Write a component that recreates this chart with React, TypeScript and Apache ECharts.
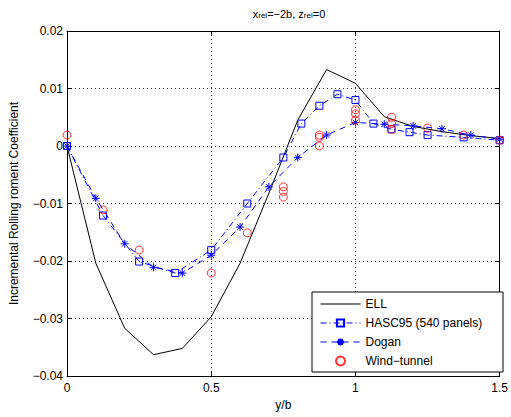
import React, { useEffect, useRef } from "react";
import * as echarts from "echarts";

const ellX = [0, 0.1, 0.2, 0.3, 0.4, 0.5, 0.6, 0.7, 0.8, 0.9, 1.0, 1.1, 1.2, 1.3, 1.4, 1.5];
const ellY = [0, -0.0204, -0.0317, -0.0363, -0.0352, -0.0297, -0.0204, -0.0082, 0.0045, 0.0133, 0.0109, 0.0051, 0.0034, 0.0025, 0.0018, 0.0013];

const hascX = [0, 0.125, 0.25, 0.375, 0.5, 0.625, 0.75, 0.8125, 0.875, 0.9375, 1.0, 1.0625, 1.125, 1.1875, 1.25, 1.375, 1.5];
const hascY = [0, -0.0121, -0.0201, -0.0221, -0.0181, -0.01, -0.002, 0.0039, 0.007, 0.009, 0.008, 0.0039, 0.0029, 0.0024, 0.0019, 0.0015, 0.001];

const doganX = [0, 0.1, 0.2, 0.3, 0.4, 0.5, 0.6, 0.7, 0.8, 0.9, 1.0, 1.1, 1.2, 1.3, 1.4, 1.5];
const doganY = [0, -0.0091, -0.017, -0.0211, -0.0221, -0.019, -0.0141, -0.0071, -0.002, 0.0019, 0.0041, 0.0038, 0.0035, 0.003, 0.0019, 0.0012];

const windX = [0, 0.125, 0.25, 0.5, 0.625, 0.75, 0.75, 0.75, 0.875, 0.875, 0.875, 1, 1, 1, 1.125, 1.125, 1.125, 1.25, 1.375, 1.5];
const windY = [0.0019, -0.0111, -0.0181, -0.0221, -0.0151, -0.0071, -0.0079, -0.0089, 0.0019, 0.0015, 0.0, 0.0063, 0.0056, 0.0045, 0.005, 0.0039, 0.0029, 0.0031, 0.0019, 0.001];

const seriesNames = ["ELL", "HASC95 (540 panels)", "Dogan", "Wind\u2212tunnel"];
const titleText = "{n|x}{s|rel}{n|=\u22122b, z}{s|rel}{n|=0}";
const xName = "y/b";
const yName = "Incremental Rolling roment Coefficient";

const FONT = "Liberation Sans, Arial, Helvetica, sans-serif";
const zip = (xs: number[], ys: number[]) => xs.map((x, i) => [x, ys[i]]);
const fmtNum = (v: number) => {
  const r = Math.round(v * 1000) / 1000;
  const s = String(Math.abs(r));
  return r < 0 ? "\u2212" + s : s;
};

const asterisk = "path://M5,0L5,10M0,5L10,5M1.6,1.6L8.4,8.4M1.6,8.4L8.4,1.6";
const dashDot = [6, 3, 1, 3];
const dashed = [6, 5];
const BLUE = "#0000ff";
const RED = "#ff0000";

export default function App() {
  const ref = useRef<HTMLDivElement>(null);
  useEffect(() => {
    if (!ref.current) return;
    const chart = echarts.init(ref.current, null, { renderer: "svg" });
    const tickStyle = { inside: true, length: 5, lineStyle: { color: "#000", width: 1 } };
    const axisLine = { show: true, onZero: false, lineStyle: { color: "#000", width: 1 } };
    const option: any = {
      animation: false,
      backgroundColor: "#fff",
      textStyle: { fontFamily: FONT },
      title: {
        text: titleText,
        left: 284,
        top: 0,
        textAlign: "center",
        textStyle: {
          fontWeight: "normal",
          rich: {
            n: { fontSize: 11, fontWeight: "normal", fontFamily: FONT, color: "#000", lineHeight: 14, verticalAlign: "bottom" },
            s: { fontSize: 8, fontWeight: "normal", fontFamily: FONT, color: "#000", lineHeight: 14, verticalAlign: "bottom", padding: [6, 0, 0, 0] },
          },
        },
      },
      grid: { left: 66, right: 8, top: 31, bottom: 41, containLabel: false },
      xAxis: [
        {
          type: "value", min: 0, max: 1.5, interval: 0.5,
          name: xName, nameLocation: "middle", nameGap: 22,
          nameTextStyle: { fontSize: 12, color: "#000", fontFamily: FONT },
          axisLine,
          axisTick: tickStyle,
          axisLabel: { fontSize: 12, color: "#000", margin: 6, fontFamily: FONT, formatter: fmtNum },
          splitLine: { show: true, lineStyle: { color: "#333", type: [1, 3], width: 1 } },
        },
        {
          type: "value", min: 0, max: 1.5, interval: 0.5, position: "top",
          axisLine,
          axisTick: tickStyle, axisLabel: { show: false }, splitLine: { show: false },
        },
      ],
      yAxis: [
        {
          type: "value", min: -0.04, max: 0.02, interval: 0.01,
          name: yName, nameLocation: "middle", nameGap: 47,
          nameTextStyle: { fontSize: 12, color: "#000", fontFamily: FONT },
          axisLine,
          axisTick: tickStyle,
          axisLabel: { fontSize: 12, color: "#000", margin: 4, fontFamily: FONT, formatter: fmtNum },
          splitLine: { show: true, lineStyle: { color: "#333", type: [1, 3], width: 1 } },
        },
        {
          type: "value", min: -0.04, max: 0.02, interval: 0.01, position: "right",
          axisLine,
          axisTick: tickStyle, axisLabel: { show: false }, splitLine: { show: false },
        },
      ],
      graphic: [
        {
          type: "rect", z: 10, shape: { x: 312, y: 292, width: 191, height: 80 },
          style: { fill: "#fff", stroke: "#000", lineWidth: 1 },
        },
      ],
      legend: {
        z: 20,
        orient: "vertical",
        left: 320,
        top: 297,
        padding: 0,
        itemGap: 5,
        itemWidth: 40,
        itemHeight: 9,
        lineStyle: { width: 1 },
        textStyle: { fontSize: 12, color: "#000", fontFamily: FONT, lineHeight: 14 },
        data: [
          { name: seriesNames[0], itemStyle: { color: "rgba(0,0,0,0)", borderWidth: 0, opacity: 0 }, lineStyle: { color: "#000", width: 1, type: "solid" } },
          { name: seriesNames[1], lineStyle: { color: BLUE, width: 1, type: dashDot } },
          { name: seriesNames[2], lineStyle: { color: BLUE, width: 1, type: dashed } },
          { name: seriesNames[3] },
        ],
      },
      series: [
        {
          name: seriesNames[0], type: "line", data: zip(ellX, ellY),
          symbol: "none", lineStyle: { color: "#000", width: 1 }, itemStyle: { color: "#000" }, z: 2,
        },
        {
          name: seriesNames[1], type: "line", data: zip(hascX, hascY),
          symbol: "rect", symbolSize: 7,
          lineStyle: { color: BLUE, width: 1, type: dashDot },
          itemStyle: { color: "rgba(0,0,0,0)", borderColor: BLUE, borderWidth: 1 }, z: 3,
        },
        {
          name: seriesNames[2], type: "line", data: zip(doganX, doganY),
          symbol: asterisk, symbolSize: 8,
          lineStyle: { color: BLUE, width: 1, type: dashed },
          itemStyle: { color: BLUE, borderColor: BLUE, borderWidth: 1 }, z: 3,
        },
        {
          name: seriesNames[3], type: "scatter", data: zip(windX, windY),
          symbol: "circle", symbolSize: 8,
          itemStyle: { color: "rgba(0,0,0,0)", borderColor: RED, borderWidth: 1 }, z: 4,
        },
      ],
    };
    chart.setOption(option);
    return () => chart.dispose();
  }, []);
  return <div ref={ref} style={{ width: 511, height: 417, position: "absolute", left: 0, top: 0 }} />;
}
